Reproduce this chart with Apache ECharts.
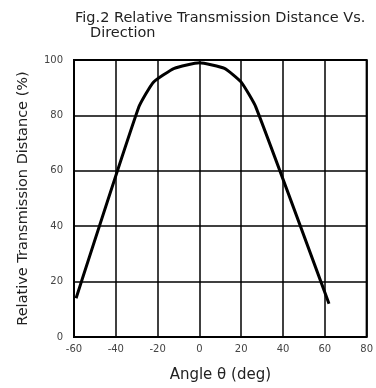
<!DOCTYPE html>
<html>
<head>
<meta charset="utf-8">
<script src="https://cdn.jsdelivr.net/npm/echarts@6/dist/echarts.min.js"></script>
<style>html,body{margin:0;padding:0;background:#fff;}#c{width:376px;height:388px;}</style>
</head>
<body>
<div id="c"></div>
<script>
var angles = [-59, -29, -22, -12, 0, 12, 20, 27, 62];
var distance = [14, 83, 92, 97, 99, 97, 92, 83, 12];
var xTicks = [-60, -40, -20, 0, 20, 40, 60, 80];
var yTicks = [0, 20, 40, 60, 80, 100];

var chart = echarts.init(document.getElementById('c'));
var font = 'DejaVu Sans';
chart.setOption({
  animation: false,
  backgroundColor: '#fff',
  title: [
    {text: 'Fig.2 Relative Transmission Distance Vs.', left: 70, top: 6,
     textStyle: {fontFamily: font, fontSize: 14.5, fontWeight: 'normal', color: '#222'}},
    {text: 'Direction', left: 85, top: 21,
     textStyle: {fontFamily: font, fontSize: 14.5, fontWeight: 'normal', color: '#222'}}
  ],
  grid: {left: 74, right: 8, top: 60, bottom: 51, show: true, borderColor: '#000', borderWidth: 2},
  xAxis: {
    type: 'value', min: -60, max: 80, interval: 20,
    name: 'Angle θ (deg)', nameLocation: 'middle', nameGap: 31,
    nameTextStyle: {fontFamily: font, fontSize: 15, color: '#222'},
    axisLine: {show: false}, axisTick: {show: false},
    splitLine: {show: true, lineStyle: {color: '#000', width: 1.5}},
    axisLabel: {fontFamily: font, fontSize: 10, color: '#444', margin: 7,
      formatter: function(v){ return xTicks.indexOf(v) >= 0 ? String(v) : ''; }}
  },
  yAxis: {
    type: 'value', min: 0, max: 100, interval: 20,
    name: 'Relative Transmission Distance (%)', nameLocation: 'middle', nameGap: 43,
    nameTextStyle: {fontFamily: font, fontSize: 14.5, color: '#222'},
    axisLine: {show: false}, axisTick: {show: false},
    splitLine: {show: true, lineStyle: {color: '#000', width: 1.5}},
    axisLabel: {fontFamily: font, fontSize: 10, color: '#444', margin: 11,
      formatter: function(v){ return yTicks.indexOf(v) >= 0 ? String(v) : ''; }}
  },
  series: [{
    type: 'line',
    data: angles.map(function(a, i){ return [a, distance[i]]; }),
    smooth: 0.15,
    symbol: 'none',
    lineStyle: {color: '#000', width: 3, join: 'round'}
  }]
});
</script>
</body>
</html>
